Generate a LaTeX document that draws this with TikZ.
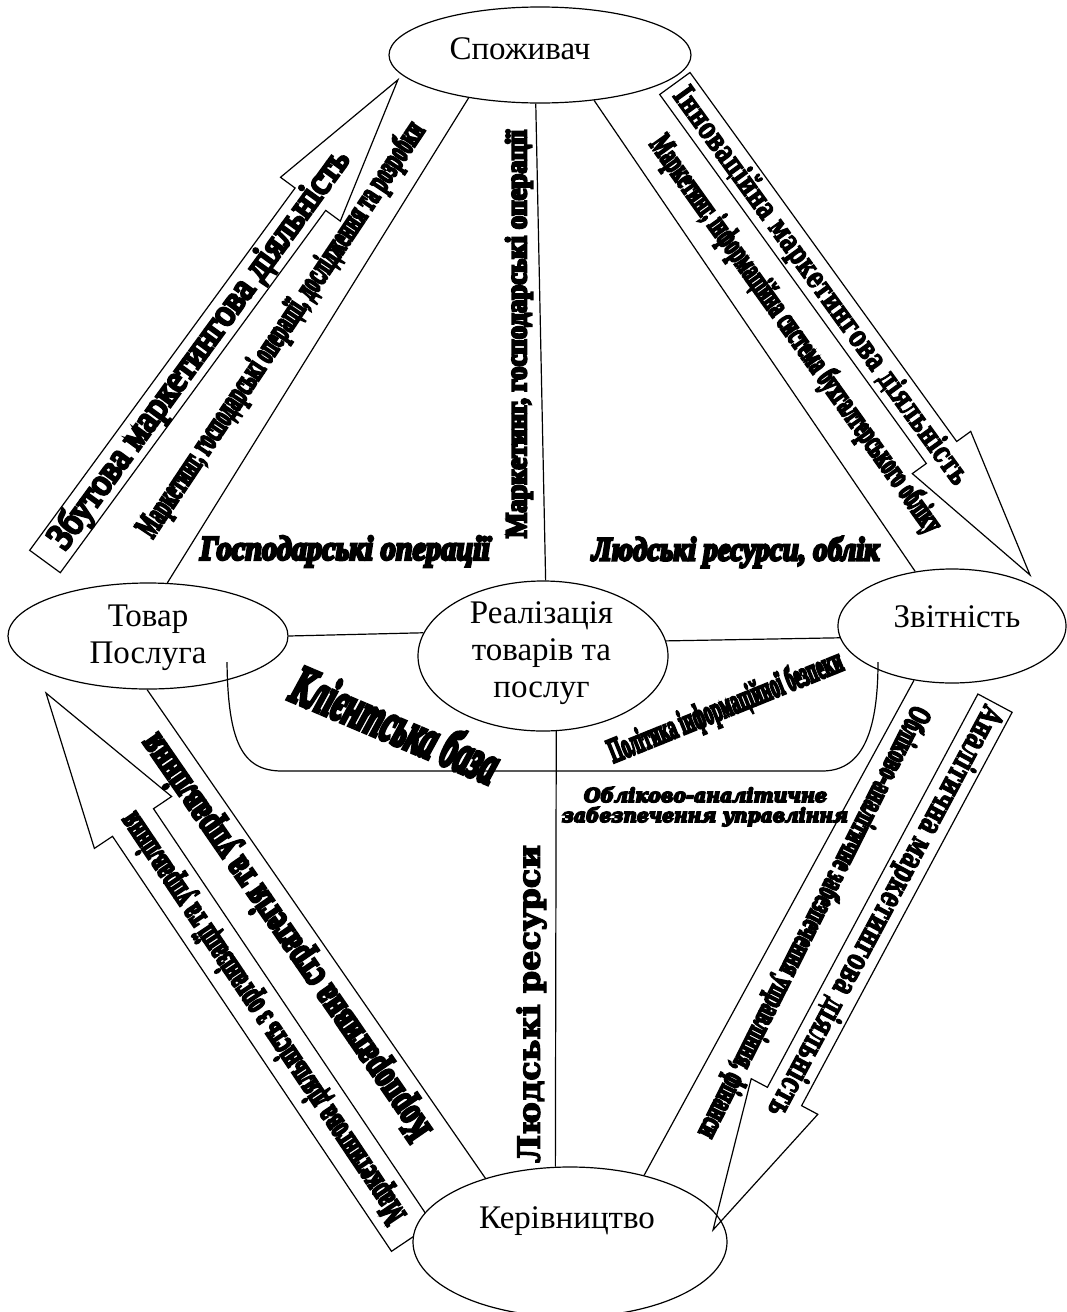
\documentclass[tikz,border=0pt]{standalone}
\usepackage{fontspec}
\setmainfont{Liberation Serif}
\newfontfamily\heavy{Liberation Serif}[FakeBold=8]
\newfontfamily\wideserif{DejaVu Serif}[FakeBold=4]
\newfontfamily\blackserif{DejaVu Serif}[FakeBold=9]
\usepackage{graphicx}
\usetikzlibrary{shapes.geometric,calc}
% squeeze a text into a band: width, total height
\newcommand{\fitto}[3]{\resizebox*{#1pt}{#2pt}{#3}}

\begin{document}
\begin{tikzpicture}[x=1pt,y=-1pt,line width=1.2pt,
  oval/.style={draw,ellipse,inner sep=0pt,fill=white},
  oname/.style={font=\fontsize{33}{37}\selectfont,align=center,inner sep=0pt},
  lbl/.style={inner sep=0pt}]
\useasboundingbox (0,0) rectangle (1067,1312);
% block arrows (under the ovals):
\draw (29.7,550.3) -- (295.1,188) -- (280.5,177.3) -- (397.9,79.8) -- (340.3,221.1) -- (325.7,210.4) -- (60.3,572.7) -- cycle;
\draw (690,72.5) -- (956.7,441.5) -- (970.7,431.4) -- (1030,575) -- (912.3,473.6) -- (926.3,463.5) -- (659.7,94.5) -- cycle;
\draw (46,693) -- (171.6,796.5) -- (153.5,808.7) -- (432.5,1223.7) -- (391.5,1251.3) -- (112.5,836.3) -- (94.4,848.4) -- cycle;
% ovals:
\node[oval,minimum width=302pt,minimum height=96pt] (cons) at (540,55) {};
\node[oval,minimum width=280pt,minimum height=106pt] (goods) at (148,636) {};
\node[oval,minimum width=250pt,minimum height=150pt] (sales) at (543,656) {};
\node[oval,minimum width=228pt,minimum height=114pt] (report) at (952,626) {};
\node[oval,minimum width=314pt,minimum height=150pt] (mgmt) at (570,1242) {};
\node[oname,anchor=base] (consT) at (520,59) {Споживач};
\node[oname] (goodsT) at (148,637.5) {Товар\\Послуга};
\node[oname] (salesT) at (541.5,653) {Реалізація\\товарів та\\послуг};
\node[oname,anchor=base] (reportT) at (957,627) {Звітність};
\node[oname,anchor=base] (mgmtT) at (567,1228) {Керівництво};
% this one lies over the oval
\draw (977.9,694) -- (767.4,1087.3) -- (751.2,1078.7) -- (713,1230) -- (817.8,1114.3) -- (801.6,1105.7) -- (1012.1,712.3) -- cycle;
% links:
\draw (cons.211.9) -- (goods.70.3);
\draw (cons.265.2) -- (sales.88.5);
\draw (cons.-40.9) -- (report.124.4);
\draw (goods.0.8) -- (sales.169.6);
\draw (sales.7.9) -- (report.186.7);
\draw (sales.-80.9) -- (mgmt.101.3);
\draw (goods.-91.1) -- (mgmt.143);
\draw (report.-125.2) -- (mgmt.42.5);
\draw ($(goods.center)+(79,26)$) .. controls +(1,80) and +(-40,0) .. ++(55,109) -- ++(540,0) .. controls +(38,0) and +(0,75) .. ($(report.center)+(-74,36)$);
% texts:
\node[lbl,rotate=53.9] (zbut) at (200,350) {\fitto{485}{35}{\heavy Збутова маркетингова діяльність}};
\node[lbl,rotate=56.3] (mgd) at (282,330) {\fitto{492}{31}{\heavy\bfseries Маркетинг, господарські операції, дослідження та розробки}};
\node[lbl,rotate=-54.1] (innov) at (821,286) {\fitto{483}{31}{\wideserif\bfseries Інноваційна маркетингова діяльність}};
\node[lbl,rotate=-54.5] (mib) at (795,335) {\fitto{480}{30}{\heavy\bfseries Маркетинг, інформаційна система бухгалтерського обліку}};
\node[lbl,rotate=123.9] (mdo) at (264,1017) {\fitto{487}{31}{\heavy\bfseries Маркетингова діяльність з організації та управління}};
\node[lbl,rotate=124.6] (korp) at (287,936) {\fitto{484}{36}{\heavy\bfseries Корпоративна стратегія та управління}};
\node[lbl,rotate=-118.2] (anal) at (884,911) {\fitto{462}{31}{\wideserif\bfseries Аналітична маркетингова діяльність}};
\node[lbl,rotate=-116.7] (oaz) at (813,922) {\fitto{480}{29}{\heavy\bfseries Обліково-аналітичне забезпечення управління, фінанси}};
\node[lbl,rotate=90] (mgo) at (519,334) {\fitto{408}{27}{\heavy\bfseries Маркетинг, господарські операції}};
\node[lbl] (gosp) at (345,551.5) {\fitto{290}{31}{\heavy\bfseries\itshape Господарські операції}};
\node[lbl] (lro) at (735.5,552) {\fitto{287}{31}{\heavy\bfseries\itshape Людські ресурси, облік}};
\node[lbl,rotate=-23] (kb) at (396,724) {\fitto{220}{40}{\heavy\bfseries\itshape Клієнтська база}};
\node[lbl,rotate=22] (pib) at (726,708) {\fitto{250}{32}{\heavy\bfseries Політика інформаційної безпеки}};
\node[lbl,anchor=base] (oa1) at (705.5,802) {\resizebox{243pt}{15pt}{\blackserif\bfseries\itshape Обліково-аналітичне}};
\node[lbl,anchor=base] (oa2) at (705,822) {\resizebox{286pt}{15pt}{\blackserif\bfseries\itshape забезпечення управління}};
\node[lbl,rotate=90] (lr) at (531.5,1004) {\fitto{318}{30}{\wideserif\bfseries Людські ресурси}};
\end{tikzpicture}
\end{document}
